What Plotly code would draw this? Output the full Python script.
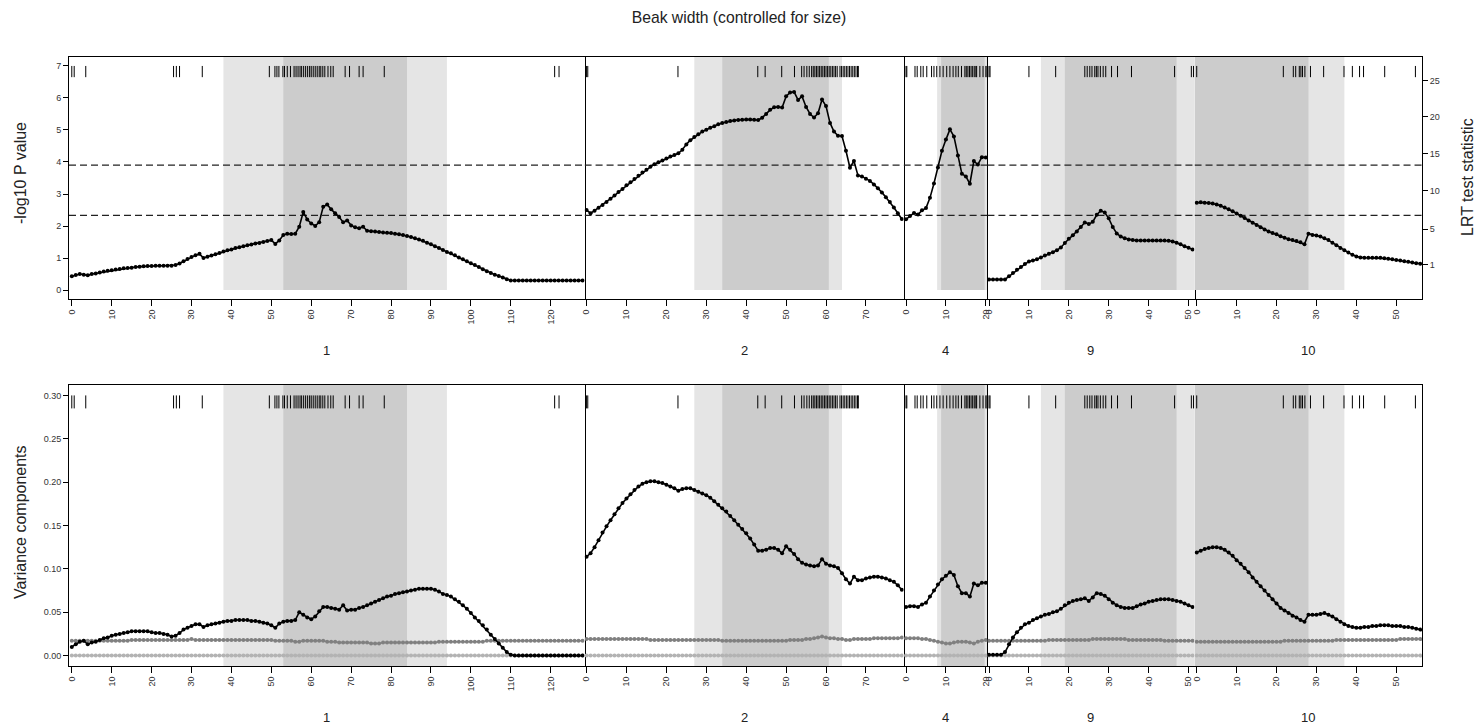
import math
import plotly.graph_objects as go

# ---------------------------------------------------------------- data
title_text = "Beak width (controlled for size)"
chromosomes = ["1", "2", "4", "9", "10"]
step_cM = 1  # spacing of the evaluated positions (cM)

# -log10 P value along each chromosome (one value per cM)
pval_chr1 = [0.43, 0.47, 0.50, 0.48, 0.46, 0.50, 0.52, 0.55, 0.58, 0.60,
             0.62, 0.64, 0.66, 0.68, 0.69, 0.70, 0.72, 0.73, 0.74, 0.75,
             0.75, 0.76, 0.76, 0.76, 0.76, 0.76, 0.78, 0.83, 0.90, 0.97,
             1.03, 1.09, 1.13, 1.00, 1.04, 1.08, 1.12, 1.16, 1.20, 1.24,
             1.27, 1.31, 1.34, 1.37, 1.40, 1.42, 1.45, 1.47, 1.50, 1.53,
             1.56, 1.44, 1.55, 1.72, 1.76, 1.75, 1.76, 1.98, 2.44, 2.20,
             2.08, 2.00, 2.12, 2.60, 2.67, 2.52, 2.40, 2.28, 2.12, 2.17,
             2.02, 1.96, 1.93, 1.98, 1.85, 1.84, 1.83, 1.81, 1.80, 1.79,
             1.78, 1.76, 1.74, 1.72, 1.69, 1.66, 1.62, 1.58, 1.54, 1.48,
             1.43, 1.37, 1.31, 1.25, 1.19, 1.15, 1.09, 1.02, 0.96, 0.90,
             0.84, 0.78, 0.72, 0.65, 0.59, 0.53, 0.48, 0.44, 0.39, 0.34,
             0.30, 0.30, 0.30, 0.30, 0.30, 0.30, 0.30, 0.30, 0.30, 0.30,
             0.30, 0.30, 0.30, 0.30, 0.30, 0.30, 0.30, 0.30, 0.30]
pval_chr2 = [2.50, 2.40, 2.48, 2.57, 2.66, 2.75, 2.85, 2.95, 3.06, 3.16,
             3.27, 3.37, 3.47, 3.57, 3.67, 3.76, 3.85, 3.93, 3.99, 4.05,
             4.11, 4.17, 4.22, 4.27, 4.38, 4.55, 4.68, 4.78, 4.87, 4.95,
             5.01, 5.07, 5.12, 5.18, 5.22, 5.25, 5.28, 5.30, 5.31, 5.32,
             5.33, 5.33, 5.32, 5.31, 5.38, 5.50, 5.63, 5.71, 5.72, 5.70,
             6.05, 6.17, 6.19, 5.94, 6.05, 5.72, 5.50, 5.39, 5.52, 5.95,
             5.75, 5.22, 4.95, 4.82, 4.81, 4.35, 3.82, 4.03, 3.58, 3.55,
             3.48, 3.41, 3.30, 3.18, 3.05, 2.90, 2.75, 2.58, 2.40, 2.22]
pval_chr4 = [2.21, 2.31, 2.41, 2.36, 2.49, 2.56, 2.88, 3.33, 3.83, 4.35,
             4.70, 5.02, 4.80, 4.20, 3.63, 3.55, 3.32, 4.03, 3.92, 4.15,
             4.14]
pval_chr9 = [0.33, 0.33, 0.33, 0.33, 0.33, 0.43, 0.53, 0.63, 0.72, 0.81,
             0.89, 0.92, 0.96, 1.02, 1.08, 1.13, 1.18, 1.24, 1.33, 1.47,
             1.60, 1.71, 1.83, 1.97, 2.11, 2.06, 2.13, 2.35, 2.48, 2.42,
             2.24, 1.97, 1.77, 1.67, 1.62, 1.58, 1.56, 1.55, 1.55, 1.55,
             1.55, 1.55, 1.55, 1.55, 1.55, 1.54, 1.52, 1.48, 1.43, 1.37,
             1.32, 1.27]
pval_chr10 = [2.73, 2.74, 2.73, 2.72, 2.70, 2.67, 2.63, 2.58, 2.52, 2.46,
              2.39, 2.32, 2.25, 2.17, 2.10, 2.03, 1.96, 1.89, 1.83, 1.78,
              1.74, 1.68, 1.63, 1.59, 1.56, 1.53, 1.49, 1.43, 1.76, 1.72,
              1.70, 1.67, 1.62, 1.56, 1.48, 1.40, 1.31, 1.24, 1.17, 1.10,
              1.05, 1.02, 1.01, 1.01, 1.01, 1.01, 1.01, 0.99, 0.98, 0.96,
              0.94, 0.92, 0.90, 0.88, 0.86, 0.84, 0.82]

# variance components: QTL (black)
vc_qtl_chr1 = [0.010, 0.013, 0.016, 0.017, 0.013, 0.015, 0.016, 0.018, 0.020, 0.021,
               0.023, 0.024, 0.025, 0.026, 0.027, 0.028, 0.028, 0.028, 0.028, 0.028,
               0.027, 0.026, 0.026, 0.025, 0.024, 0.022, 0.023, 0.026, 0.030, 0.032,
               0.034, 0.036, 0.036, 0.033, 0.035, 0.036, 0.037, 0.038, 0.039, 0.040,
               0.040, 0.041, 0.041, 0.041, 0.041, 0.040, 0.040, 0.039, 0.038, 0.037,
               0.035, 0.032, 0.037, 0.039, 0.040, 0.040, 0.041, 0.050, 0.047, 0.044,
               0.042, 0.045, 0.051, 0.056, 0.056, 0.055, 0.054, 0.053, 0.058, 0.052,
               0.053, 0.053, 0.055, 0.056, 0.058, 0.060, 0.062, 0.064, 0.066, 0.068,
               0.069, 0.071, 0.072, 0.073, 0.074, 0.075, 0.076, 0.077, 0.077, 0.077,
               0.077, 0.076, 0.074, 0.071, 0.070, 0.068, 0.065, 0.062, 0.058, 0.054,
               0.049, 0.044, 0.040, 0.035, 0.030, 0.024, 0.019, 0.014, 0.009, 0.004,
               0.001, 0.000, 0.000, 0.000, 0.000, 0.000, 0.000, 0.000, 0.000, 0.000,
               0.000, 0.000, 0.000, 0.000, 0.000, 0.000, 0.000, 0.000, 0.000]
vc_qtl_chr2 = [0.114, 0.118, 0.125, 0.133, 0.142, 0.149, 0.156, 0.163, 0.170, 0.176,
               0.181, 0.186, 0.191, 0.195, 0.198, 0.200, 0.201, 0.201, 0.200, 0.199,
               0.197, 0.195, 0.193, 0.190, 0.192, 0.193, 0.193, 0.191, 0.189, 0.187,
               0.185, 0.182, 0.178, 0.174, 0.170, 0.166, 0.161, 0.156, 0.151, 0.146,
               0.141, 0.135, 0.128, 0.121, 0.121, 0.122, 0.124, 0.124, 0.122, 0.118,
               0.126, 0.122, 0.117, 0.111, 0.107, 0.105, 0.104, 0.103, 0.104, 0.111,
               0.106, 0.104, 0.103, 0.101, 0.095, 0.088, 0.083, 0.091, 0.087, 0.087,
               0.089, 0.090, 0.091, 0.091, 0.090, 0.089, 0.087, 0.085, 0.081, 0.076]
vc_qtl_chr4 = [0.056, 0.057, 0.057, 0.056, 0.059, 0.061, 0.068, 0.075, 0.082, 0.088,
               0.092, 0.096, 0.093, 0.080, 0.072, 0.072, 0.068, 0.083, 0.081, 0.084,
               0.084]
vc_qtl_chr9 = [0.001, 0.001, 0.001, 0.001, 0.004, 0.013, 0.021, 0.027, 0.032, 0.036,
               0.038, 0.041, 0.043, 0.045, 0.047, 0.048, 0.050, 0.051, 0.054, 0.058,
               0.061, 0.063, 0.064, 0.065, 0.066, 0.063, 0.067, 0.072, 0.071, 0.069,
               0.065, 0.061, 0.058, 0.056, 0.055, 0.055, 0.055, 0.057, 0.059, 0.060,
               0.062, 0.063, 0.064, 0.065, 0.065, 0.065, 0.064, 0.063, 0.062, 0.060,
               0.058, 0.056]
vc_qtl_chr10 = [0.119, 0.121, 0.123, 0.124, 0.125, 0.125, 0.124, 0.122, 0.119, 0.115,
                0.110, 0.106, 0.101, 0.096, 0.090, 0.085, 0.080, 0.075, 0.070, 0.065,
                0.060, 0.055, 0.052, 0.049, 0.046, 0.044, 0.041, 0.039, 0.047, 0.047,
                0.047, 0.048, 0.049, 0.047, 0.045, 0.042, 0.039, 0.036, 0.034, 0.033,
                0.032, 0.032, 0.033, 0.033, 0.034, 0.034, 0.035, 0.035, 0.035, 0.034,
                0.034, 0.034, 0.033, 0.033, 0.032, 0.031, 0.030]

# variance components: second component (dark grey)
vc_poly_chr1 = [0.017, 0.017, 0.017, 0.017, 0.017, 0.017, 0.017, 0.017, 0.017, 0.017,
                0.017, 0.017, 0.017, 0.017, 0.017, 0.018, 0.018, 0.018, 0.018, 0.018,
                0.018, 0.018, 0.018, 0.018, 0.018, 0.018, 0.018, 0.018, 0.018, 0.018,
                0.019, 0.018, 0.018, 0.018, 0.018, 0.018, 0.018, 0.018, 0.018, 0.018,
                0.018, 0.018, 0.018, 0.018, 0.018, 0.018, 0.018, 0.018, 0.018, 0.018,
                0.018, 0.017, 0.017, 0.017, 0.017, 0.017, 0.016, 0.016, 0.017, 0.017,
                0.017, 0.017, 0.017, 0.017, 0.016, 0.016, 0.016, 0.015, 0.015, 0.015,
                0.015, 0.015, 0.015, 0.015, 0.015, 0.014, 0.014, 0.014, 0.015, 0.015,
                0.015, 0.015, 0.015, 0.015, 0.015, 0.015, 0.015, 0.015, 0.015, 0.015,
                0.015, 0.015, 0.016, 0.016, 0.016, 0.016, 0.016, 0.016, 0.016, 0.016,
                0.016, 0.016, 0.016, 0.016, 0.017, 0.017, 0.017, 0.017, 0.017, 0.017,
                0.017, 0.017, 0.017, 0.017, 0.017, 0.017, 0.017, 0.017, 0.017, 0.017,
                0.017, 0.017, 0.017, 0.017, 0.017, 0.017, 0.017, 0.017, 0.017]
vc_poly_chr2 = [0.019, 0.019, 0.019, 0.019, 0.019, 0.019, 0.019, 0.019, 0.019, 0.019,
                0.019, 0.019, 0.019, 0.019, 0.019, 0.019, 0.018, 0.018, 0.018, 0.018,
                0.018, 0.018, 0.018, 0.018, 0.018, 0.018, 0.018, 0.018, 0.018, 0.018,
                0.018, 0.018, 0.018, 0.018, 0.017, 0.017, 0.017, 0.017, 0.017, 0.017,
                0.017, 0.017, 0.017, 0.017, 0.017, 0.017, 0.017, 0.017, 0.017, 0.017,
                0.017, 0.018, 0.018, 0.018, 0.018, 0.019, 0.019, 0.020, 0.021, 0.022,
                0.021, 0.020, 0.020, 0.019, 0.019, 0.018, 0.018, 0.019, 0.019, 0.019,
                0.019, 0.019, 0.020, 0.020, 0.020, 0.020, 0.020, 0.020, 0.020, 0.021]
vc_poly_chr4 = [0.020, 0.020, 0.020, 0.020, 0.019, 0.019, 0.018, 0.017, 0.016, 0.015,
                0.014, 0.014, 0.015, 0.016, 0.016, 0.016, 0.015, 0.014, 0.016, 0.017,
                0.018]
vc_poly_chr9 = [0.017, 0.017, 0.017, 0.017, 0.017, 0.017, 0.017, 0.017, 0.017, 0.017,
                0.017, 0.017, 0.017, 0.017, 0.017, 0.018, 0.018, 0.018, 0.018, 0.018,
                0.018, 0.018, 0.018, 0.018, 0.018, 0.018, 0.019, 0.019, 0.019, 0.019,
                0.019, 0.019, 0.019, 0.019, 0.019, 0.018, 0.018, 0.018, 0.018, 0.018,
                0.018, 0.018, 0.018, 0.018, 0.017, 0.017, 0.017, 0.017, 0.017, 0.017,
                0.017, 0.017]
vc_poly_chr10 = [0.016, 0.016, 0.016, 0.016, 0.016, 0.016, 0.016, 0.016, 0.016, 0.016,
                 0.016, 0.016, 0.016, 0.016, 0.016, 0.016, 0.016, 0.016, 0.016, 0.016,
                 0.016, 0.016, 0.017, 0.017, 0.017, 0.017, 0.017, 0.017, 0.017, 0.017,
                 0.017, 0.017, 0.017, 0.017, 0.017, 0.018, 0.018, 0.018, 0.018, 0.018,
                 0.018, 0.018, 0.018, 0.018, 0.018, 0.018, 0.018, 0.018, 0.018, 0.018,
                 0.018, 0.019, 0.019, 0.019, 0.019, 0.019, 0.019]

# variance components: third component (light grey) - sits at zero
vc_third_chr1 = [0.000, 0.000, 0.000, 0.000, 0.000, 0.000, 0.000, 0.000, 0.000, 0.000,
                 0.000, 0.000, 0.000, 0.000, 0.000, 0.000, 0.000, 0.000, 0.000, 0.000,
                 0.000, 0.000, 0.000, 0.000, 0.000, 0.000, 0.000, 0.000, 0.000, 0.000,
                 0.000, 0.000, 0.000, 0.000, 0.000, 0.000, 0.000, 0.000, 0.000, 0.000,
                 0.000, 0.000, 0.000, 0.000, 0.000, 0.000, 0.000, 0.000, 0.000, 0.000,
                 0.000, 0.000, 0.000, 0.000, 0.000, 0.000, 0.000, 0.000, 0.000, 0.000,
                 0.000, 0.000, 0.000, 0.000, 0.000, 0.000, 0.000, 0.000, 0.000, 0.000,
                 0.000, 0.000, 0.000, 0.000, 0.000, 0.000, 0.000, 0.000, 0.000, 0.000,
                 0.000, 0.000, 0.000, 0.000, 0.000, 0.000, 0.000, 0.000, 0.000, 0.000,
                 0.000, 0.000, 0.000, 0.000, 0.000, 0.000, 0.000, 0.000, 0.000, 0.000,
                 0.000, 0.000, 0.000, 0.000, 0.000, 0.000, 0.000, 0.000, 0.000, 0.000,
                 0.000, 0.000, 0.000, 0.000, 0.000, 0.000, 0.000, 0.000, 0.000, 0.000,
                 0.000, 0.000, 0.000, 0.000, 0.000, 0.000, 0.000, 0.000, 0.000]
vc_third_chr2 = [0.000, 0.000, 0.000, 0.000, 0.000, 0.000, 0.000, 0.000, 0.000, 0.000,
                 0.000, 0.000, 0.000, 0.000, 0.000, 0.000, 0.000, 0.000, 0.000, 0.000,
                 0.000, 0.000, 0.000, 0.000, 0.000, 0.000, 0.000, 0.000, 0.000, 0.000,
                 0.000, 0.000, 0.000, 0.000, 0.000, 0.000, 0.000, 0.000, 0.000, 0.000,
                 0.000, 0.000, 0.000, 0.000, 0.000, 0.000, 0.000, 0.000, 0.000, 0.000,
                 0.000, 0.000, 0.000, 0.000, 0.000, 0.000, 0.000, 0.000, 0.000, 0.000,
                 0.000, 0.000, 0.000, 0.000, 0.000, 0.000, 0.000, 0.000, 0.000, 0.000,
                 0.000, 0.000, 0.000, 0.000, 0.000, 0.000, 0.000, 0.000, 0.000, 0.000]
vc_third_chr4 = [0.000, 0.000, 0.000, 0.000, 0.000, 0.000, 0.000, 0.000, 0.000, 0.000,
                 0.000, 0.000, 0.000, 0.000, 0.000, 0.000, 0.000, 0.000, 0.000, 0.000,
                 0.000]
vc_third_chr9 = [0.000, 0.000, 0.000, 0.000, 0.000, 0.000, 0.000, 0.000, 0.000, 0.000,
                 0.000, 0.000, 0.000, 0.000, 0.000, 0.000, 0.000, 0.000, 0.000, 0.000,
                 0.000, 0.000, 0.000, 0.000, 0.000, 0.000, 0.000, 0.000, 0.000, 0.000,
                 0.000, 0.000, 0.000, 0.000, 0.000, 0.000, 0.000, 0.000, 0.000, 0.000,
                 0.000, 0.000, 0.000, 0.000, 0.000, 0.000, 0.000, 0.000, 0.000, 0.000,
                 0.000, 0.000]
vc_third_chr10 = [0.000, 0.000, 0.000, 0.000, 0.000, 0.000, 0.000, 0.000, 0.000, 0.000,
                  0.000, 0.000, 0.000, 0.000, 0.000, 0.000, 0.000, 0.000, 0.000, 0.000,
                  0.000, 0.000, 0.000, 0.000, 0.000, 0.000, 0.000, 0.000, 0.000, 0.000,
                  0.000, 0.000, 0.000, 0.000, 0.000, 0.000, 0.000, 0.000, 0.000, 0.000,
                  0.000, 0.000, 0.000, 0.000, 0.000, 0.000, 0.000, 0.000, 0.000, 0.000,
                  0.000, 0.000, 0.000, 0.000, 0.000, 0.000, 0.000]

# marker positions (cM) shown as the rug along the top
markers_chr1 = [0.0, 0.6, 3.5, 25.5, 26.2, 27.0, 32.7, 49.5, 50.9, 51.4, 51.9, 52.9,
                53.3, 54.0, 54.8, 55.7, 56.2, 56.7, 57.2, 57.6, 58.1, 58.6, 59.1, 59.6,
                60.0, 60.5, 61.0, 61.5, 62.0, 62.4, 62.9, 63.4, 64.2, 64.9, 65.5, 68.5,
                69.6, 72.0, 73.0, 78.3, 121.0, 122.1]
markers_chr2 = [0.0, 0.3, 22.9, 42.9, 44.75, 48.9, 52.1, 53.9, 54.5, 55.2, 55.8, 56.4,
                56.8, 57.2, 57.6, 58.0, 58.4, 58.8, 59.2, 59.6, 60.0, 60.4, 60.8, 61.2,
                61.6, 62.0, 62.4, 62.8, 63.5, 63.9, 64.3, 64.7, 65.1, 65.5, 65.9, 66.3,
                66.7, 67.1, 67.5, 67.9, 68.1]
markers_chr4 = [0.0, 0.2, 2.25, 2.8, 3.7, 4.3, 5.2, 6.4, 7.0, 7.7, 8.5, 9.3, 10.2, 11.0,
                11.8, 12.5, 13.1, 13.9, 14.75, 15.1, 15.5, 15.9, 16.3, 16.7, 17.1, 17.5,
                17.7, 18.5, 19.3, 20.0, 20.3]
markers_chr9 = [0.0, 0.25, 10.0, 16.7, 24.0, 24.6, 25.25, 25.8, 26.5, 26.9, 27.3, 27.9,
                28.6, 29.25, 30.7, 32.2, 35.7, 46.5, 50.7, 51.25]
markers_chr10 = [0.0, 21.7, 24.2, 24.8, 25.7, 26.1, 26.5, 27.1, 28.5, 31.8, 36.9, 39.0,
                 40.8, 41.8, 47.1, 54.8]

# support intervals (cM): wide (light grey) and narrow (dark grey)
wide_interval = [(38.0, 94.0), (27.0, 64.0), (7.8, 20.4), (13.0, 51.5), (-0.55, 37.0)]
narrow_interval = [(53.0, 84.0), (34.0, 60.7), (8.8, 19.7), (19.0, 47.0), (-0.55, 28.0)]

thresholds = [3.9, 2.33]           # -log10 P significance lines
pval_ticks = [0, 1, 2, 3, 4, 5, 6, 7]
vc_ticks = [0.00, 0.05, 0.10, 0.15, 0.20, 0.25, 0.30]
lrt_ticks = [1, 5, 10, 15, 20, 25]

pvals = [pval_chr1, pval_chr2, pval_chr4, pval_chr9, pval_chr10]
vc_qtl = [vc_qtl_chr1, vc_qtl_chr2, vc_qtl_chr4, vc_qtl_chr9, vc_qtl_chr10]
vc_poly = [vc_poly_chr1, vc_poly_chr2, vc_poly_chr4, vc_poly_chr9, vc_poly_chr10]
vc_third = [vc_third_chr1, vc_third_chr2, vc_third_chr4, vc_third_chr9, vc_third_chr10]
markers = [markers_chr1, markers_chr2, markers_chr4, markers_chr9, markers_chr10]

# ---------------------------------------------------------------- layout constants
FONT = "Liberation Sans, Arial, Helvetica, sans-serif"
W, H = 1478, 726
ML, MR, MT, MB = 69, 56, 57, 60
PW, PH = W - ML - MR, H - MT - MB

x_lo = [-0.7, -0.5, -0.6, -0.4, -0.55]
x_hi = [128.5, 79.45, 20.4, 51.5, 56.45]


def px_x(p):
    return (p - ML) / PW


def px_y(p):
    return (H - MB - p) / PH


spans = [h - l for l, h in zip(x_lo, x_hi)]
tot = sum(spans)
domains = []
acc = 0.0
for s in spans:
    domains.append([acc / tot, min(1.0, (acc + s) / tot)])
    acc += s

top_dom = [px_y(299), 1.0]
bot_dom = [0.0, px_y(385)]
top_range = [-0.28, 7.28]
bot_range = [-0.012, 0.312]
rug_top = (6.65, 7.0)
rug_bot = (0.285, 0.30)

LIGHT = "#E5E5E5"
DARK = "#CCCCCC"

fig = go.Figure()
shapes = []
layout_axes = {}

tickfont = dict(family=FONT, size=9, color="#333333")

for i in range(5):
    kt, kb = i + 1, i + 6
    for k, ydom, yr, is_top in ((kt, top_dom, top_range, True), (kb, bot_dom, bot_range, False)):
        xa = "xaxis" if k == 1 else f"xaxis{k}"
        ya = "yaxis" if k == 1 else f"yaxis{k}"
        layout_axes[xa] = dict(
            domain=domains[i], range=[x_lo[i], x_hi[i]], anchor=f"y{k}",
            showline=True, mirror=True, linecolor="black", linewidth=1,
            ticks="outside", ticklen=6, tickwidth=1, tickcolor="black",
            tickmode="linear", tick0=0, dtick=10, tickangle=-90,
            tickfont=tickfont, showgrid=False, zeroline=False, fixedrange=True)
        yax = dict(domain=ydom, range=yr, anchor=f"x{k}",
                   showline=True, linecolor="black", linewidth=1,
                   showgrid=False, zeroline=False, fixedrange=True)
        if i == 0:
            yax.update(mirror=True, ticks="outside", ticklen=5, tickwidth=1, tickcolor="black",
                       tickmode="array", tickfont=tickfont,
                       tickvals=pval_ticks if is_top else vc_ticks,
                       ticktext=[str(v) for v in pval_ticks] if is_top
                       else [f"{v:.2f}" for v in vc_ticks])
        else:
            # only the right-hand edge: the left edge is the previous panel's right edge
            yax.update(side="right", mirror=False, showticklabels=False, ticks="")
        layout_axes[ya] = yax

        # shaded support intervals
        y0 = 0 if is_top else yr[0]
        y1 = yr[1]
        for (a, b), col in ((wide_interval[i], LIGHT), (narrow_interval[i], DARK)):
            shapes.append(dict(type="rect", xref=f"x{k}", yref=f"y{k}",
                               x0=max(a, x_lo[i]), x1=min(b, x_hi[i]), y0=y0, y1=y1,
                               fillcolor=col, line=dict(width=0), layer="below"))
        if is_top:
            for t in thresholds:
                shapes.append(dict(type="line", xref=f"x{k}", yref=f"y{k}",
                                   x0=x_lo[i], x1=x_hi[i], y0=t, y1=t,
                                   line=dict(color="#222222", width=1.3, dash="7px,4px"),
                                   layer="below"))

    pos_p = [j * step_cM for j in range(len(pvals[i]))]
    # rug
    rx, ryt, ryb = [], [], []
    for m in markers[i]:
        rx += [m, m, None]
        ryt += [rug_top[0], rug_top[1], None]
        ryb += [rug_bot[0], rug_bot[1], None]
    fig.add_trace(go.Scatter(x=rx, y=ryt, mode="lines", line=dict(color="black", width=1),
                             xaxis=f"x{kt}", yaxis=f"y{kt}", hoverinfo="skip", showlegend=False))
    fig.add_trace(go.Scatter(x=rx, y=ryb, mode="lines", line=dict(color="black", width=1),
                             xaxis=f"x{kb}", yaxis=f"y{kb}", hoverinfo="skip", showlegend=False))
    # top: -log10 P
    fig.add_trace(go.Scatter(x=pos_p, y=pvals[i], mode="lines+markers",
                             line=dict(color="black", width=1.6),
                             marker=dict(size=4, color="black"),
                             xaxis=f"x{kt}", yaxis=f"y{kt}", showlegend=False))
    # bottom: variance components
    for series, col, lw in ((vc_third[i], "#B3B3B3", 1.5), (vc_poly[i], "#808080", 1.5),
                            (vc_qtl[i], "black", 1.6)):
        pos_v = [j * step_cM for j in range(len(series))]
        fig.add_trace(go.Scatter(x=pos_v, y=series, mode="lines+markers",
                                 line=dict(color=col, width=lw),
                                 marker=dict(size=4, color=col),
                                 xaxis=f"x{kb}", yaxis=f"y{kb}", showlegend=False))

# right-hand LRT axis (ticks placed at -log10 of the 50:50 chi-square mixture P value)
lrt_pos = [-math.log10(0.5 * math.erfc(math.sqrt(v / 2.0))) for v in lrt_ticks]
layout_axes["yaxis11"] = dict(overlaying="y5", side="right", anchor="x5", range=top_range,
                              tickmode="array", tickvals=lrt_pos,
                              ticktext=[str(v) for v in lrt_ticks],
                              ticks="outside", ticklen=5, tickwidth=1, tickcolor="black",
                              tickfont=tickfont, showgrid=False, zeroline=False,
                              showline=False, fixedrange=True)
fig.add_trace(go.Scatter(x=[None], y=[None], xaxis="x5", yaxis="y11",
                         showlegend=False, hoverinfo="skip"))

annotations = []
for i, c in enumerate(chromosomes):
    xm = (domains[i][0] + domains[i][1]) / 2
    for yp in (350, 718):
        annotations.append(dict(text=c, x=xm, y=px_y(yp), xref="paper", yref="paper",
                                xanchor="center", yanchor="middle", showarrow=False,
                                font=dict(family=FONT, size=13, color="#222222")))
annotations.append(dict(text="-log10 P value", x=px_x(20), y=px_y(173), xref="paper",
                        yref="paper", textangle=-90, showarrow=False,
                        xanchor="center", yanchor="middle",
                        font=dict(family=FONT, size=16, color="#222222")))
annotations.append(dict(text="Variance components", x=px_x(20), y=px_y(522), xref="paper",
                        yref="paper", textangle=-90, showarrow=False,
                        xanchor="center", yanchor="middle",
                        font=dict(family=FONT, size=16, color="#222222")))
annotations.append(dict(text="LRT test statistic", x=px_x(1467), y=px_y(177), xref="paper",
                        yref="paper", textangle=-90, showarrow=False,
                        xanchor="center", yanchor="middle",
                        font=dict(family=FONT, size=16, color="#222222")))

fig.update_layout(
    width=W, height=H,
    margin=dict(l=ML, r=MR, t=MT, b=MB, pad=0),
    paper_bgcolor="white", plot_bgcolor="white",
    title=dict(text=title_text, x=0.5, xref="container", y=1 - 18 / H, yanchor="middle",
               xanchor="center", font=dict(family=FONT, size=15.7, color="#222222")),
    font=dict(family=FONT),
    showlegend=False,
    shapes=shapes,
    annotations=annotations,
    **layout_axes,
)

fig.write_html("out.html",
               config={"displayModeBar": False},
               post_script="document.body.style.margin='0';document.body.style.padding='0';"
                           "document.body.style.overflow='hidden';")
